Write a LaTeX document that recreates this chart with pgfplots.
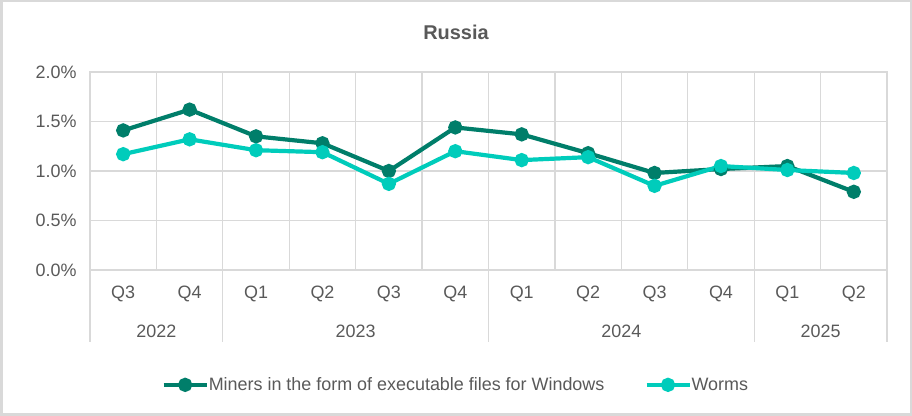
\documentclass[border=0pt]{standalone}
\usepackage{pgfplots}
\pgfplotsset{compat=1.18}
\usepackage{fontspec}
\setmainfont{Liberation Sans}
\definecolor{txt}{HTML}{595959}
\definecolor{grd}{HTML}{D9D9D9}
\definecolor{miner}{HTML}{007E6A}
\definecolor{worm}{HTML}{00CCBB}
\begin{document}
\begin{tikzpicture}
\path[use as bounding box] (0bp,0bp) rectangle (912bp,416bp);
\draw[grd,line width=2bp] (1.5bp,1.5bp) rectangle (910.5bp,414.5bp);
\node[text=txt,font=\fontsize{20}{24}\selectfont\bfseries] at (456bp,384bp) {Russia};
\begin{axis}[
  at={(90bp,146bp)}, anchor=south west,
  scale only axis, width=797bp, height=198bp,
  xmin=0, xmax=12, ymin=0, ymax=0.02,
  axis line style={grd, line width=1.3bp},
  xtick={0.5,1.5,...,11.5},
  xticklabels={Q3,Q4,Q1,Q2,Q3,Q4,Q1,Q2,Q3,Q4,Q1,Q2},
  minor xtick={1,...,11},
  xminorgrids=true,
  ytick={0,0.005,0.01,0.015,0.02},
  ymajorgrids=true,
  grid style={grd, line width=1.3bp},
  minor grid style={grd, line width=1.3bp},
  major tick length=0pt, minor tick length=0pt,
  tick style={draw=none},
  /pgf/number format/assume math mode=true,
  scaled y ticks=false,
  yticklabel={\pgfmathparse{\tick*100}\pgfmathprintnumber[fixed,fixed zerofill,precision=1]{\pgfmathresult}\%},
  ticklabel style={text=txt, font=\fontsize{18}{21}\selectfont},
  xticklabel style={yshift=-12bp},
  yticklabel style={xshift=-10bp},
  clip=false,
  legend columns=2,
  legend style={draw=none, fill=none, at={(0.459,-0.58)}, anchor=center,
    font=\fontsize{18}{21}\selectfont, text=txt, inner xsep=1bp,
    /tikz/every odd column/.append style={column sep=-2bp},
    /tikz/every even column/.append style={column sep=38bp}},
  legend image code/.code={
    \draw[#1,mark=none] plot coordinates {(0bp,0bp) (43bp,0bp)};
    \draw[#1,mark=*,mark size=5bp] plot coordinates {(21.5bp,0bp)};
  },
]
\addplot[miner, line width=4.2bp, mark=*, mark size=5bp] coordinates {
(0.5,0.0141) (1.5,0.0162) (2.5,0.0135) (3.5,0.0128) (4.5,0.0100) (5.5,0.0144)
(6.5,0.0137) (7.5,0.0118) (8.5,0.0098) (9.5,0.0102) (10.5,0.0105) (11.5,0.0079)};
\addlegendentry{Miners in the form of executable files for Windows}
\addplot[worm, line width=4.2bp, mark=*, mark size=5bp] coordinates {
(0.5,0.0117) (1.5,0.0132) (2.5,0.0121) (3.5,0.0119) (4.5,0.0087) (5.5,0.0120)
(6.5,0.0111) (7.5,0.0114) (8.5,0.0085) (9.5,0.0105) (10.5,0.0101) (11.5,0.0098)};
\addlegendentry{Worms}
\foreach \s in {0,2,6,10,12} {
  \edef\tmp{\noexpand\draw[grd, line width=1.3bp] (axis cs:\s,0) -- ++(0bp,-72bp);}\tmp
}
\foreach \c/\yr in {1/2022,4/2023,8/2024,11/2025} {
  \edef\tmp{\noexpand\node[text=txt,font=\noexpand\fontsize{18}{21}\noexpand\selectfont] at ([yshift=-61bp]axis cs:\c,0) {\yr};}\tmp
}
\end{axis}
\end{tikzpicture}
\end{document}
